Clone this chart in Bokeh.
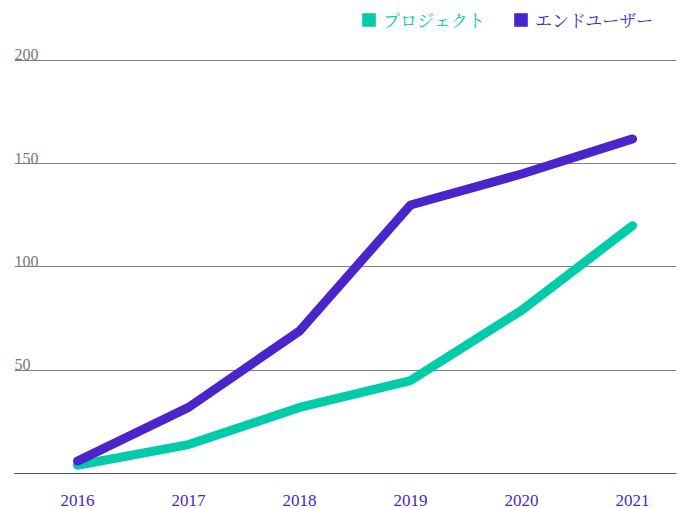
from bokeh.plotting import figure
from bokeh.models import Range1d, FixedTicker, Legend, LegendItem
from bokeh.core.properties import value
from bokeh.embed import file_html
from bokeh.resources import INLINE

years = [2016, 2017, 2018, 2019, 2020, 2021]
projects = [4, 14, 32, 45, 79, 120]
end_users = [6, 32, 69, 130, 145, 162]
y_ticks = [50, 100, 150, 200]
series_names = ["プロジェクト", "エンドユーザー"]
colors = ["#00CCAA", "#4A25CC"]

FONT = "'Liberation Serif', 'Noto Serif CJK JP', 'Noto Sans CJK JP', serif"

x0, x1 = 2015.4324, 2021.396
p = figure(width=681, height=508, output_backend="svg", toolbar_location=None,
           x_range=Range1d(x0, x1), y_range=Range1d(0, 229.0),
           min_border_left=14, min_border_right=5, min_border_top=0, min_border_bottom=34)
p.outline_line_color = None
p.background_fill_color = "white"
p.border_fill_color = "white"

p.yaxis.visible = False
p.ygrid.ticker = FixedTicker(ticks=y_ticks)
p.ygrid.grid_line_color = "#808080"
p.ygrid.grid_line_width = 1
p.xgrid.grid_line_color = None

p.xaxis.ticker = FixedTicker(ticks=years)
p.xaxis.axis_line_color = "#555555"
p.xaxis.axis_line_width = 1
p.xaxis.major_tick_line_color = None
p.xaxis.minor_tick_line_color = None
p.xaxis.major_label_text_color = colors[1]
p.xaxis.major_label_text_font = FONT
p.xaxis.major_label_text_font_size = "17px"
p.xaxis.major_label_standoff = 15

p.text(x=[x0] * len(y_ticks), y=y_ticks, text=[str(t) for t in y_ticks],
       text_font=value(FONT), text_font_size="16px", text_color="#777777",
       text_baseline="bottom", text_align="left", y_offset=0)

p.line(years, projects, line_width=9, line_color=colors[0], line_cap="round", line_join="round")
p.line(years, end_users, line_width=9, line_color=colors[1], line_cap="round", line_join="round")

sw = []
for c in colors:
    sw.append(p.quad(left=[years[0]], right=[years[0]], top=[0], bottom=[0],
                     fill_color=c, line_color=None))

for i, (name, c, loc) in enumerate(zip(series_names, colors, [(346, 441), (498, 441)])):
    lg = Legend(items=[LegendItem(label=name, renderers=[sw[i]])], location=loc,
                orientation="horizontal", padding=0, margin=0, spacing=0,
                glyph_width=17, glyph_height=17, label_height=17, label_standoff=6,
                label_text_color=c, label_text_font=FONT, label_text_font_size="17px",
                background_fill_alpha=0, border_line_alpha=0)
    p.add_layout(lg, "center")

open("out.html", "w").write(file_html(p, INLINE))
